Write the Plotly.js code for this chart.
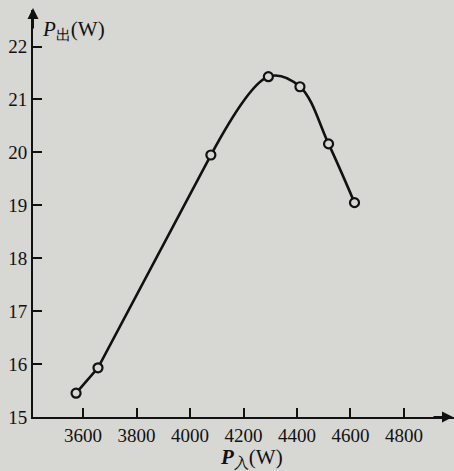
<!DOCTYPE html>
<html>
<head>
<meta charset="utf-8">
<script src="https://cdn.plot.ly/plotly-3.0.1.min.js"></script>
<style>html,body{margin:0;padding:0;background:#d7d7d3;}</style>
</head>
<body>
<div id="chart" style="width:454px;height:471px;"></div>
<script>
const pIn = [3574, 3656, 4078, 4293, 4411, 4518, 4615];
const pOut = [15.45, 15.93, 19.95, 21.43, 21.24, 20.16, 19.05];
const xTicks = [3600, 3800, 4000, 4200, 4400, 4600, 4800];
const yTicks = [15, 16, 17, 18, 19, 20, 21, 22];

const ink = '#111111';
const paperColor = '#d7d7d3';
const serif = 'Liberation Serif, Times New Roman, serif';

// rising part is drawn nearly straight, the top part as a smooth curve
const riseTrace = {
  x: pIn.slice(0, 3), y: pOut.slice(0, 3),
  type: 'scatter', mode: 'lines',
  line: {shape: 'linear', color: ink, width: 2.6},
  hoverinfo: 'skip'
};
const peakTrace = {
  x: pIn.slice(2), y: pOut.slice(2),
  type: 'scatter', mode: 'lines',
  line: {shape: 'spline', smoothing: 1, color: ink, width: 2.6},
  hoverinfo: 'skip'
};
const pointTrace = {
  x: pIn, y: pOut,
  type: 'scatter', mode: 'markers',
  marker: {symbol: 'circle', size: 9, color: paperColor, line: {color: ink, width: 2.2}},
  cliponaxis: false,
  hoverinfo: 'skip'
};

const layout = {
  width: 454, height: 471,
  margin: {l: 33, r: 0, t: 10, b: 54},
  paper_bgcolor: paperColor, plot_bgcolor: paperColor,
  showlegend: false,
  font: {family: serif, color: ink, size: 19},
  xaxis: {
    range: [3413, 4987], tickvals: xTicks, ticktext: xTicks.map(String),
    ticks: 'inside', ticklen: 9, tickwidth: 2, tickcolor: ink,
    showline: true, linewidth: 2, linecolor: ink,
    showgrid: false, zeroline: false,
    tickfont: {family: serif, size: 19, color: ink}
  },
  yaxis: {
    range: [15, 22.69], tickvals: yTicks, ticktext: yTicks.map(String),
    ticks: 'inside', ticklen: 9, tickwidth: 2, tickcolor: ink,
    showline: true, linewidth: 2, linecolor: ink,
    showgrid: false, zeroline: false,
    tickfont: {family: serif, size: 19, color: ink}
  },
  annotations: [
    {xref: 'paper', yref: 'paper', x: 0, y: 1.005, ax: 0, ay: 22, text: '',
     showarrow: true, arrowhead: 2, arrowsize: 1.1, arrowwidth: 2, arrowcolor: ink},
    {xref: 'paper', yref: 'paper', x: 1, y: 0, ax: -22, ay: 0, text: '',
     showarrow: true, arrowhead: 2, arrowsize: 1.1, arrowwidth: 2, arrowcolor: ink},
    {xref: 'paper', yref: 'paper', x: 0.016, y: 0.951, xanchor: 'left', yanchor: 'middle',
     text: '<i>P</i><sub>出</sub>(W)', showarrow: false,
     font: {family: serif, size: 21, color: ink}},
    {xref: 'paper', yref: 'paper', x: 0.52, y: -0.10, xanchor: 'center', yanchor: 'middle',
     text: '<b><i>P</i></b><sub>入</sub>(W)', showarrow: false,
     font: {family: serif, size: 21, color: ink}}
  ]
};

Plotly.newPlot('chart', [riseTrace, peakTrace, pointTrace], layout, {staticPlot: true, displayModeBar: false});
</script>
</body>
</html>
